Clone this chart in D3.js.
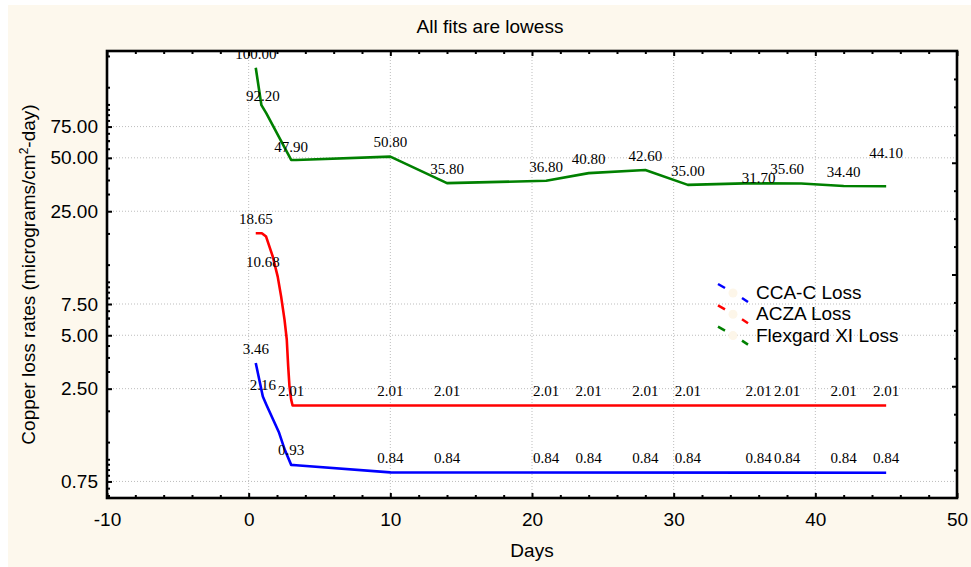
<!DOCTYPE html>
<html lang="en">
<head>
    <meta charset="UTF-8">
    <title>Copper loss rates</title>
    <script src="https://d3js.org/d3.v7.min.js"></script>
    <style>
        body { margin: 0; background: white; }
        .sans { font-family: "Liberation Sans", Arial, sans-serif; }
        .serif { font-family: "Liberation Serif", "Times New Roman", serif; }
        .grid { stroke: #bdbdbd; stroke-width: 1; stroke-dasharray: 1,2; }
    </style>
</head>
<body>
<svg id="chart" width="971" height="567"></svg>
<script>
    // sampling days of the observations (labelled points)
    var days = [0.5, 1, 3, 10, 14, 21, 24, 28, 31, 36, 38, 42, 45];

    // point labels and where they sit
    var ccaLabels = ["3.46","2.16","0.93","0.84","0.84","0.84","0.84","0.84","0.84","0.84","0.84","0.84","0.84"];
    var ccaValues = [3.46, 2.16, 0.93, 0.84, 0.84, 0.84, 0.84, 0.84, 0.84, 0.84, 0.84, 0.84, 0.84];
    var aczaLabels = ["18.65","10.68","2.01","2.01","2.01","2.01","2.01","2.01","2.01","2.01","2.01","2.01","2.01"];
    var aczaValues = [18.65, 10.68, 2.01, 2.01, 2.01, 2.01, 2.01, 2.01, 2.01, 2.01, 2.01, 2.01, 2.01];
    var flexLabels = ["100.00","92.20","47.90","50.80","35.80","36.80","40.80","42.60","35.00","31.70","35.60","34.40","44.10"];
    var flexValues = [160, 92.2, 47.9, 50.8, 35.8, 36.8, 40.8, 42.6, 35.0, 31.7, 35.6, 34.4, 44.1];

    // lowess fits
    var ccaFitDays = [0.5, 1.0, 1.25, 2.15, 2.55, 3.0, 3.35, 10, 45];
    var ccaFit     = [3.49, 2.26, 2.03, 1.41, 1.13, 0.93, 0.925, 0.844, 0.84];
    var aczaFitDays = [0.5, 0.93, 1.23, 1.7, 2.05, 2.29, 2.53, 2.69, 2.79, 2.88, 3.0, 3.1, 45];
    var aczaFit     = [18.8, 18.8, 18.0, 13.9, 10.7, 8.28, 6.12, 4.72, 3.34, 2.58, 2.17, 2.01, 2.01];
    var flexFitDays = [0.5, 0.9, 1.25, 3.0, 3.35, 10, 14, 21, 24, 28, 31, 35, 39, 42, 45];
    var flexFit     = [161, 99, 89, 48.7, 48.6, 50.8, 36.0, 37.1, 41.0, 42.7, 35.2, 35.9, 35.8, 34.7, 34.6];

    var xTicks = [-10, 0, 10, 20, 30, 40, 50];
    var yTicks = [0.75, 2.5, 5, 7.5, 25, 50, 75];
    var seriesNames = ["CCA-C Loss", "ACZA Loss", "Flexgard XI Loss"];
    var colors = ["#0000ff", "#ff0000", "#008000"];

    var svg = d3.select("#chart");
    var pL = 107, pR = 957, pT = 51, pB = 498;

    svg.append("rect").attr("x", 8).attr("y", 5).attr("width", 963).attr("height", 562).attr("fill", "#fdf8ed");
    svg.append("rect").attr("x", pL).attr("y", pT).attr("width", pR - pL).attr("height", pB - pT).attr("fill", "white");

    var x = d3.scaleLinear().domain([-10, 50]).range([pL, pR]);
    var y = d3.scaleLog().domain([0.605, 200]).range([pB, pT]);

    // minor ticks: every 2 days, quarter steps on the log axis
    var xMinor = d3.range(-10, 51, 2).filter(function(d) { return xTicks.indexOf(d) < 0; });
    var yMinor = [];
    [0.1, 1, 10, 100].forEach(function(dec) {
        for (var k = 1; k <= 16; k++) {
            var v = +(dec * 0.625 * k).toFixed(5);
            if (v > 0.61 && v < 200 && yTicks.indexOf(v) < 0) yMinor.push(v);
        }
    });

    // grid
    svg.append("g").selectAll("line").data(yTicks).enter().append("line")
        .attr("class", "grid")
        .attr("x1", pL).attr("x2", pR)
        .attr("y1", function(d) { return y(d); }).attr("y2", function(d) { return y(d); });
    svg.append("g").selectAll("line").data(xTicks.slice(1, -1)).enter().append("line")
        .attr("class", "grid")
        .attr("y1", pT).attr("y2", pB)
        .attr("x1", function(d) { return x(d); }).attr("x2", function(d) { return x(d); });

    svg.append("clipPath").attr("id", "clip").append("rect")
        .attr("x", pL).attr("y", pT).attr("width", pR - pL).attr("height", pB - pT);
    var plot = svg.append("g").attr("clip-path", "url(#clip)");

    var line = d3.line().x(function(d) { return x(d[0]); }).y(function(d) { return y(d[1]); });
    var fits = [d3.zip(ccaFitDays, ccaFit), d3.zip(aczaFitDays, aczaFit), d3.zip(flexFitDays, flexFit)];
    fits.forEach(function(f, i) {
        plot.append("path").datum(f)
            .attr("d", line)
            .attr("fill", "none")
            .attr("stroke", colors[i])
            .attr("stroke-width", 2.6)
            .attr("stroke-linejoin", "round");
    });

    var labelSets = [[ccaValues, ccaLabels], [aczaValues, aczaLabels], [flexValues, flexLabels]];
    labelSets.forEach(function(s) {
        plot.append("g").selectAll("text").data(d3.zip(days, s[0], s[1])).enter().append("text")
            .attr("class", "serif")
            .attr("font-size", "15px")
            .attr("text-anchor", "middle")
            .attr("x", function(d) { return x(d[0]); })
            .attr("y", function(d) { return y(d[1]) - 9.5; })
            .text(function(d) { return d[2]; });
    });

    // axes, ticks pointing inward
    function strip(g) { g.select(".domain").remove(); }
    svg.append("g").attr("transform", "translate(0," + pB + ")")
        .call(d3.axisBottom(x).tickValues(xTicks).tickSize(-5).tickPadding(15).tickFormat(function(d) { return String(d); }))
        .call(strip)
        .attr("class", "sans").attr("font-size", "19px").attr("font-family", null);
    svg.append("g").attr("transform", "translate(0," + pB + ")")
        .call(d3.axisBottom(x).tickValues(xMinor).tickSize(-3).tickFormat("")).call(strip);
    svg.append("g").attr("transform", "translate(0," + pT + ")")
        .call(d3.axisTop(x).tickValues(xTicks).tickSize(-5).tickFormat("")).call(strip);
    svg.append("g").attr("transform", "translate(0," + pT + ")")
        .call(d3.axisTop(x).tickValues(xMinor).tickSize(-3).tickFormat("")).call(strip);

    svg.append("g").attr("transform", "translate(" + pL + ",0)")
        .call(d3.axisLeft(y).tickValues(yTicks).tickFormat(d3.format(".2f")).tickSize(-5).tickPadding(9))
        .call(strip)
        .attr("class", "sans").attr("font-size", "19px").attr("font-family", null);
    svg.append("g").attr("transform", "translate(" + pL + ",0)")
        .call(d3.axisLeft(y).tickValues(yMinor).tickSize(-3).tickFormat("")).call(strip);

    var yr = d3.scaleLinear().domain([0, 16]).range([pB, pT]);
    svg.append("g").attr("transform", "translate(" + pR + ",0)")
        .call(d3.axisRight(yr).tickValues([4, 8, 12]).tickSize(-5).tickFormat("")).call(strip);
    svg.append("g").attr("transform", "translate(" + pR + ",0)")
        .call(d3.axisRight(yr).tickValues([1, 2, 3, 5, 6, 7, 9, 10, 11, 13, 14, 15]).tickSize(-3).tickFormat("")).call(strip);

    svg.selectAll(".tick line").attr("stroke", "black").attr("stroke-width", 2);
    svg.selectAll(".tick text").attr("fill", "black");

    svg.append("rect").attr("x", pL).attr("y", pT).attr("width", pR - pL).attr("height", pB - pT)
        .attr("fill", "none").attr("stroke", "black").attr("stroke-width", 2.6);

    // titles
    svg.append("text").attr("class", "sans").attr("font-size", "19px")
        .attr("x", 490).attr("y", 33).attr("text-anchor", "middle")
        .text("All fits are lowess");
    svg.append("text").attr("class", "sans").attr("font-size", "19px")
        .attr("x", (pL + pR) / 2).attr("y", 557).attr("text-anchor", "middle")
        .text("Days");
    var yt = svg.append("text").attr("class", "sans").attr("font-size", "19px")
        .attr("transform", "translate(35," + (pT + pB) / 2 + ") rotate(-90)")
        .attr("text-anchor", "middle");
    yt.append("tspan").text("Copper loss rates (micrograms/cm");
    yt.append("tspan").attr("font-size", "12px").attr("dy", -7).text("2");
    yt.append("tspan").attr("dy", 7).text("-day)");

    // legend
    var legend = svg.append("g").attr("transform", "translate(718, 284)");
    seriesNames.forEach(function(name, i) {
        var row = legend.append("g").attr("transform", "translate(0," + (i * 21.3) + ")");
        row.append("line").attr("x1", 0).attr("y1", 0).attr("x2", 7).attr("y2", 4)
            .attr("stroke", colors[i]).attr("stroke-width", 2.5);
        row.append("line").attr("x1", 24).attr("y1", 14).attr("x2", 30).attr("y2", 18)
            .attr("stroke", colors[i]).attr("stroke-width", 2.5);
        row.append("circle").attr("cx", 15).attr("cy", 9).attr("r", 4.5)
            .attr("fill", "#fdf6e9");
        row.append("text").attr("class", "sans").attr("font-size", "19px")
            .attr("x", 38).attr("y", 15).text(name);
    });
</script>
</body>
</html>
